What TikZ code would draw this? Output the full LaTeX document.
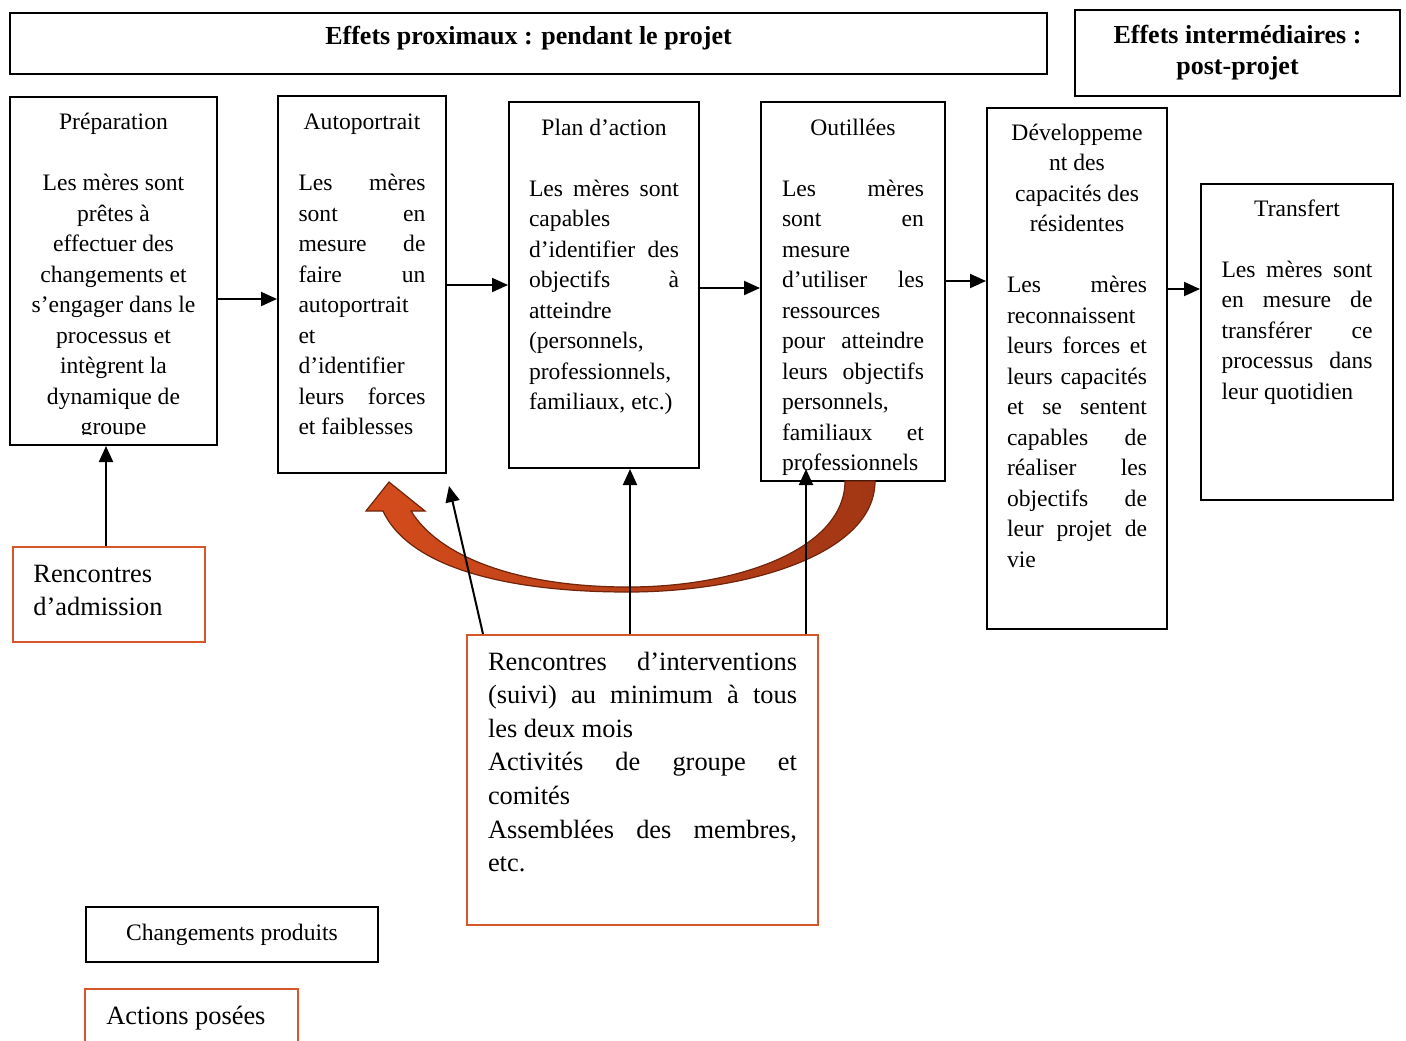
\documentclass[tikz,border=0pt]{standalone}
\usepackage{fontspec}
\setmainfont{Liberation Serif}
\usepackage{xcolor}
\usepackage{tikz}
\usetikzlibrary{arrows.meta, positioning, calc}
\definecolor{act_orange}{RGB}{214, 86, 44}
\definecolor{loop_light}{RGB}{212, 76, 28}
\definecolor{loop_dark}{RGB}{162, 54, 20}
\definecolor{loop_edge}{RGB}{112, 36, 12}
\newcommand{\bodysize}{\fontsize{11.8pt}{15.25pt}\selectfont}
\newcommand{\bigsize}{\fontsize{13.2pt}{16.8pt}\selectfont}
\newcommand{\headsize}{\fontsize{13pt}{15.5pt}\selectfont\bfseries}
\newcommand{\stagetext}[2]{\begin{minipage}[t]{#1}\hyphenpenalty=10000 \exhyphenpenalty=10000
  \tolerance=10000 \hbadness=10000 #2\end{minipage}}

\begin{document}
\begin{tikzpicture}[x=0.5pt, y=-0.5pt,
    change/.style={draw, line width=1pt, inner sep=0pt, anchor=north west},
    action/.style={draw=act_orange, line width=1pt, inner sep=0pt, anchor=north west},
    txt/.style={inner sep=0pt, anchor=base, font=\bodysize},
    flow/.style={line width=1pt, -{Triangle[length=8pt, width=7pt]}}]

\useasboundingbox (0,0) rectangle (1406,1040);

% en-tetes
\node[change, minimum width=518.5pt, minimum height=30.5pt] (prox) at (9,12) {};
\node[inner sep=0pt, anchor=base, font=\headsize] (proxtxt) at ($(prox.north)+(0,32)$)
  {Effets proximaux : pendant le projet};
\node[change, minimum width=162.5pt, minimum height=43pt] (post) at (1074,9) {};
\node[inner sep=0pt, anchor=base, font=\headsize] (posttxt) at ($(post.north)+(0,34)$)
  {\stagetext{150pt}{\centering Effets intermédiaires :\\ post-projet}};

% etapes
\node[change, minimum width=103.5pt, minimum height=174pt] (prep) at (9,96) {};
\begin{scope}
  \clip (prep.north west) rectangle ($(prep.south east)+(0,-12)$);
  \node[txt] (preptxt) at ($(prep.north)+(0,33.5)$) {\stagetext{92pt}{\centering
    Préparation\\[15.25pt]
    Les mères sont\\ prêtes à\\ effectuer des\\ changements et\\ s’engager dans le\\
    processus et\\ intègrent la\\ dynamique de\\ groupe}};
\end{scope}

\node[change, minimum width=84pt, minimum height=188.5pt] (auto) at (277,95) {};
\node[txt] (autotxt) at ($(auto.north)+(0,34.5)$) {\stagetext{63.5pt}{{\centering
    Autoportrait\par}\vspace{15.25pt}
    Les mères\linebreak sont en\linebreak mesure de\linebreak faire un\linebreak
    autoportrait\linebreak et\linebreak d’identifier\linebreak leurs forces\linebreak
    et faiblesses}};

\node[change, minimum width=95pt, minimum height=183pt] (plan) at (508,101) {};
\node[txt] (plantxt) at ($(plan.north)+(0,34)$) {\stagetext{75pt}{{\centering
    Plan d’action\par}\vspace{15.25pt}
    Les mères sont\linebreak capables\linebreak d’identifier des\linebreak
    objectifs à\linebreak atteindre\linebreak (personnels,\linebreak
    professionnels,\linebreak familiaux, etc.)}};

\node[change, minimum width=92pt, minimum height=189.5pt] (outil) at (760,101) {};
\node[txt] (outiltxt) at ($(outil.north)+(0,34)$) {\stagetext{71pt}{{\centering
    Outillées\par}\vspace{15.25pt}
    Les mères\linebreak sont en\linebreak mesure\linebreak d’utiliser les\linebreak
    ressources\linebreak pour atteindre\linebreak leurs objectifs\linebreak
    personnels,\linebreak familiaux et\linebreak professionnels}};

\node[change, minimum width=90pt, minimum height=260.5pt] (dev) at (986,107) {};
\node[txt] (devtxt) at ($(dev.north)+(0,33)$) {\stagetext{70pt}{{\centering
    Développeme\\ nt des\\ capacités des\\ résidentes\par}\vspace{15.25pt}
    Les mères\linebreak reconnaissent\linebreak leurs forces et\linebreak
    leurs capacités\linebreak et se sentent\linebreak capables de\linebreak
    réaliser les\linebreak objectifs de\linebreak leur projet de\linebreak vie}};

\node[change, minimum width=96pt, minimum height=158pt] (transf) at (1200,183) {};
\node[txt] (transftxt) at ($(transf.north)+(0,33)$) {\stagetext{75.5pt}{{\centering
    Transfert\par}\vspace{15.25pt}
    Les mères sont\linebreak en mesure de\linebreak transférer ce\linebreak
    processus dans\linebreak leur quotidien}};

% actions
\node[action, minimum width=96pt, minimum height=47.5pt] (adm) at (12,546) {};
\node[inner sep=0pt, anchor=base west, font=\bigsize] (admtxt) at ($(adm.north west)+(21,36)$)
  {\stagetext{80pt}{\raggedright Rencontres\\ d’admission}};

\node[action, minimum width=175.5pt, minimum height=145pt] (interv) at (466,634) {};
\node[inner sep=0pt, anchor=base, font=\bigsize] (intervtxt) at ($(interv.north)+(0,36)$)
  {\stagetext{154.5pt}{Rencontres d’interventions\linebreak (suivi) au minimum à tous\linebreak
    les deux mois\par
    Activités de groupe et\linebreak comités\par
    Assemblées des membres,\linebreak etc.}};

% boucle
\draw[loop_edge, line width=0.6pt, left color=loop_light, right color=loop_dark]
  (845,481) -- (875,481)
  .. controls (875,555) and (745,592) .. (628,592)
  .. controls (500,592) and (408,565) .. (383,511)
  -- (366,511) -- (389,482) -- (425,511) -- (411,511)
  .. controls (440,558) and (520,587) .. (628,587)
  .. controls (740,587) and (845,548) .. (845,481) -- cycle;

% fleches
\draw[flow] (prep.east |- 0,299) -- (auto.west |- 0,299);
\draw[flow] (auto.east |- 0,285) -- (plan.west |- 0,285);
\draw[flow] (plan.east |- 0,288) -- (outil.west |- 0,288);
\draw[flow] (outil.east |- 0,281) -- (dev.west |- 0,281);
\draw[flow] (dev.east |- 0,289) -- (transf.west |- 0,289);
\draw[flow] (adm.north -| 106,0) -- (prep.south -| 106,0);
\draw[flow] (interv.north -| 483,0) -- ($(auto.south east)+(2,12)$);
\draw[flow] (interv.north -| 630,0) -- (plan.south -| 630,0);
\draw[flow] (interv.north -| 806,0) -- ($(outil.south -| 806,0)+(0,-13)$);

% legende
\node[change, minimum width=146pt, minimum height=27.5pt, font=\bodysize] (legC) at (85,906)
  {Changements produits};
\node[action, minimum width=106.5pt, minimum height=36pt] (legA) at (84,988) {};
\node[inner sep=0pt, anchor=base west, font=\bigsize] (legAtxt) at ($(legA.north west)+(22,36)$)
  {Actions posées};
\end{tikzpicture}
\end{document}
